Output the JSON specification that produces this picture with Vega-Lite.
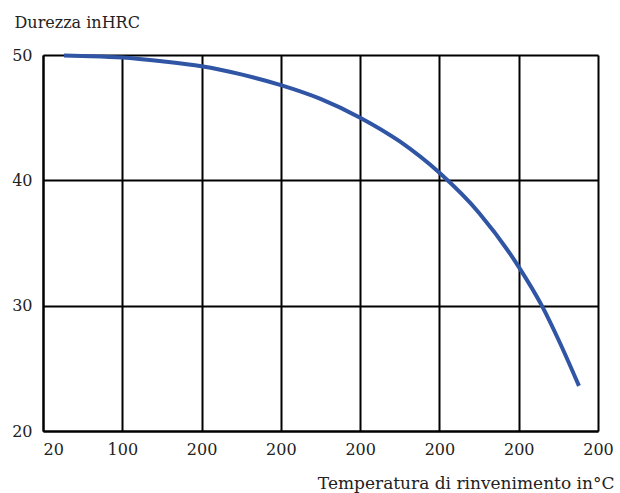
{
  "$schema": "https://vega.github.io/schema/vega-lite/v6.json",
  "width": 555,
  "height": 376,
  "autosize": "none",
  "padding": {"left": 43, "top": 55, "right": 22, "bottom": 62},
  "background": "white",
  "config": {
    "view": {"stroke": null},
    "font": "DejaVu Serif"
  },
  "data": {
    "values": [
      {"t": 0.265, "hrc": 49.96},
      {"t": 0.6, "hrc": 49.91},
      {"t": 1.0, "hrc": 49.8},
      {"t": 1.5, "hrc": 49.5},
      {"t": 2.0, "hrc": 49.1},
      {"t": 2.5, "hrc": 48.45},
      {"t": 3.0, "hrc": 47.6},
      {"t": 3.5, "hrc": 46.5},
      {"t": 4.0, "hrc": 45.0},
      {"t": 4.5, "hrc": 43.1},
      {"t": 5.0, "hrc": 40.6},
      {"t": 5.5, "hrc": 37.4},
      {"t": 6.0, "hrc": 33.1},
      {"t": 6.3, "hrc": 29.9},
      {"t": 6.5, "hrc": 27.3},
      {"t": 6.76, "hrc": 23.6}
    ]
  },
  "mark": {"type": "line", "color": "#2f55a4", "strokeWidth": 4, "interpolate": "monotone", "strokeCap": "butt"},
  "encoding": {
    "x": {
      "field": "t",
      "type": "quantitative",
      "scale": {"domain": [0, 7], "nice": false, "zero": false},
      "axis": {
        "values": [0, 1, 2, 3, 4, 5, 6, 7],
        "labelExpr": "['20','100','200','200','200','200','200','200'][datum.value]",
        "labelAlign": {"expr": "datum.value == 0 ? 'left' : 'center'"},
        "labelFont": "DejaVu Serif",
        "labelFontSize": 16,
        "labelColor": "#222",
        "labelPadding": 10,
        "ticks": false,
        "domainColor": "#000",
        "domainWidth": 2,
        "grid": true,
        "gridColor": "#000",
        "gridWidth": 2,
        "gridOpacity": 1,
        "title": "Temperatura di rinvenimento in°C",
        "titleFont": "DejaVu Serif",
        "titleFontSize": 17,
        "titleFontWeight": "normal",
        "titleColor": "#222",
        "titleAlign": "right",
        "titleAnchor": null,
        "titleX": 571,
        "titleY": 57,
        "titleBaseline": "alphabetic"
      }
    },
    "y": {
      "field": "hrc",
      "type": "quantitative",
      "scale": {"domain": [20, 50], "nice": false, "zero": false},
      "axis": {
        "values": [20, 30, 40, 50],
        "labelFont": "DejaVu Serif",
        "labelFontSize": 16,
        "labelColor": "#222",
        "labelPadding": 11,
        "ticks": false,
        "domainColor": "#000",
        "domainWidth": 2,
        "grid": true,
        "gridColor": "#000",
        "gridWidth": 2,
        "gridOpacity": 1,
        "title": "Durezza inHRC",
        "titleFont": "DejaVu Serif",
        "titleFontSize": 16,
        "titleFontWeight": "normal",
        "titleColor": "#222",
        "titleAngle": 0,
        "titleAlign": "left",
        "titleAnchor": null,
        "titleX": -29,
        "titleY": -28,
        "titleBaseline": "alphabetic"
      }
    }
  }
}
